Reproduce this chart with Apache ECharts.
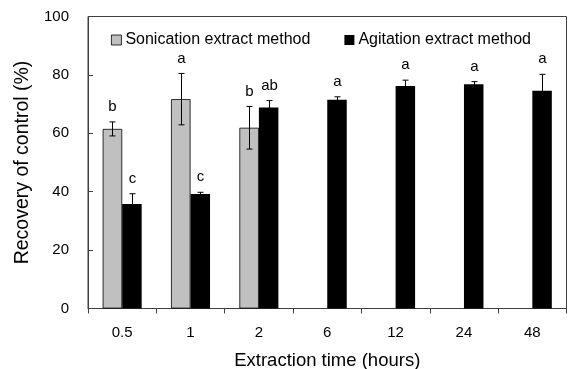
<!DOCTYPE html>
<html><head><meta charset="utf-8">
<script src="https://cdn.jsdelivr.net/npm/echarts@6/dist/echarts.min.js"></script>
<style>html,body{margin:0;padding:0;background:#fff}#c{width:571px;height:369px}</style>
</head><body><div id="c"></div><script>
const categories = ['0.5', '1', '2', '6', '12', '24', '48'];
const sonication = [61.5, 71.7, 61.9, null, null, null, null];
const sonicationErr = [2.4, 8.8, 7.3, null, null, null, null];
const sonicationLetters = ['b', 'a', 'b', '', '', '', ''];
const agitation = [35.8, 39.2, 68.8, 71.5, 76.2, 76.8, 74.6];
const agitationErr = [3.5, 0.6, 2.4, 1.0, 2.0, 0.9, 5.6];
const agitationLetters = ['c', 'c', 'ab', 'a', 'a', 'a', 'a'];
const yTicks = [0, 20, 40, 60, 80, 100];

const FONT = 'Liberation Sans, Arial, sans-serif';
const BW = 19.5;

function errSeries(vals, errs, letters, side) {
  const data = [];
  vals.forEach((v, i) => { if (v != null) data.push([i, v, errs[i], letters[i]]); });
  return {
    type: 'custom', z: 10, silent: true,
    data: data,
    renderItem: function (params, api) {
      const ci = api.value(0), m = api.value(1), e = api.value(2);
      const letter = data[params.dataIndex][3];
      const top = api.coord([ci, m + e]);
      const bot = api.coord([ci, m - e]);
      const x = Math.round(top[0] + side * BW / 2) + 0.5;
      const cap = 3;
      return {
        type: 'group',
        children: [
          { type: 'line', shape: { x1: x, y1: top[1], x2: x, y2: bot[1] }, style: { stroke: '#000', lineWidth: 1 } },
          { type: 'line', shape: { x1: x - cap, y1: top[1], x2: x + cap, y2: top[1] }, style: { stroke: '#000', lineWidth: 1 } },
          { type: 'line', shape: { x1: x - cap, y1: bot[1], x2: x + cap, y2: bot[1] }, style: { stroke: '#000', lineWidth: 1 } },
          { type: 'text', style: { text: letter, x: x, y: top[1] - 15, align: 'center', verticalAlign: 'middle', font: '15px ' + FONT, fill: '#000' } }
        ]
      };
    }
  };
}

const chart = echarts.init(document.getElementById('c'), null, { renderer: 'canvas' });
chart.setOption({
  animation: false,
  backgroundColor: '#fff',
  textStyle: { fontFamily: FONT },
  grid: { left: 88, right: 4.5, top: 16.5, bottom: 60.5, show: true, borderColor: '#404040', borderWidth: 1,
          containLabel: false, outerBoundsMode: 'none' },
  legend: {
    left: 106, top: 27, itemWidth: 10, itemHeight: 10, itemGap: 34,
    icon: 'rect',
    textStyle: { fontSize: 16, color: '#000', fontFamily: FONT, padding: [0, 0, 0, -1] },
    data: [
      { name: 'Sonication extract method', itemStyle: { color: '#c0c0c0', borderColor: '#000', borderWidth: 0.8 } },
      { name: 'Agitation extract method', itemStyle: { color: '#000' } }
    ]
  },
  xAxis: {
    type: 'category', data: categories,
    name: 'Extraction time (hours)', nameLocation: 'middle', nameGap: 43,
    nameTextStyle: { fontSize: 18.5, color: '#000', fontFamily: FONT },
    axisLine: { lineStyle: { color: '#404040', width: 1 } },
    axisTick: { show: true, length: 5, inside: false, alignWithLabel: false, lineStyle: { color: '#404040' } },
    axisLabel: { fontSize: 15, color: '#000', margin: 17, fontFamily: FONT }
  },
  yAxis: {
    type: 'value', min: yTicks[0], max: yTicks[yTicks.length - 1], interval: 20,
    name: 'Recovery of control (%)', nameLocation: 'middle', nameGap: 53, nameRotate: 90,
    nameTextStyle: { fontSize: 19.5, color: '#000', fontFamily: FONT },
    axisLine: { show: true, lineStyle: { color: '#404040', width: 1 } },
    axisTick: { show: true, inside: true, length: 5, lineStyle: { color: '#404040' } },
    splitLine: { show: false },
    axisLabel: { fontSize: 15, color: '#000', margin: 19, fontFamily: FONT }
  },
  series: [
    { name: 'Sonication extract method', type: 'bar', data: sonication, barWidth: BW, barGap: '0%',
      itemStyle: { color: '#c0c0c0', borderColor: '#000', borderWidth: 0.8 } },
    { name: 'Agitation extract method', type: 'bar', data: agitation, barWidth: BW, barGap: '0%',
      itemStyle: { color: '#000' } },
    errSeries(sonication, sonicationErr, sonicationLetters, -1),
    errSeries(agitation, agitationErr, agitationLetters, 1)
  ]
});
</script></body></html>
